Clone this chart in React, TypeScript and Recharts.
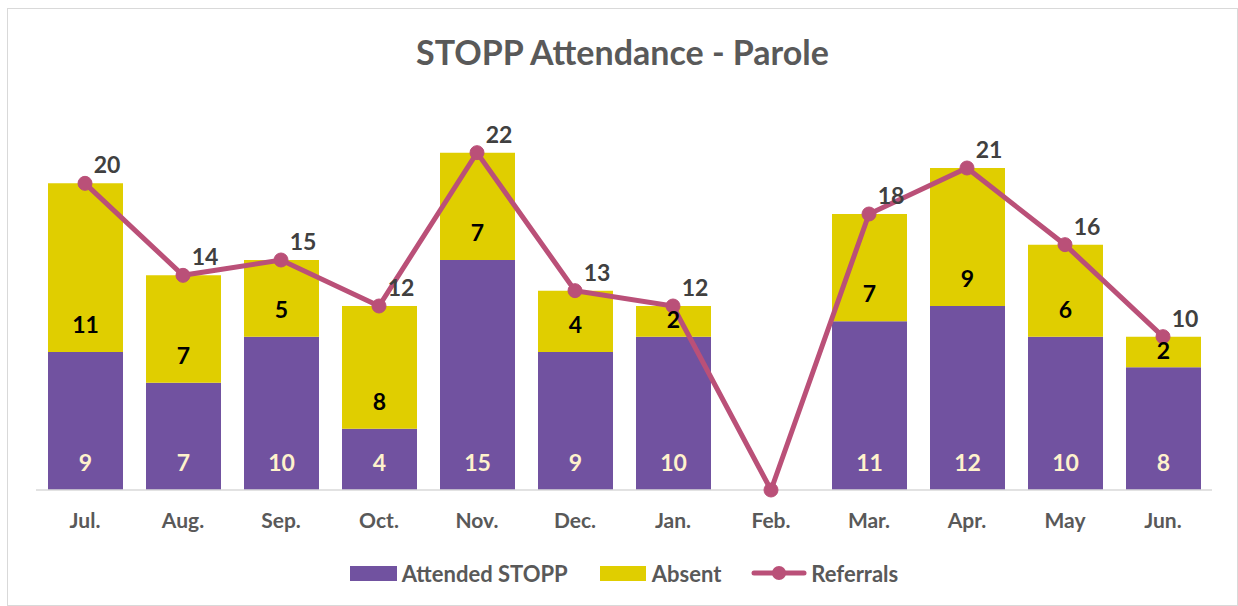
import { ComposedChart, Bar, Line, XAxis, YAxis, Legend, LabelList } from 'recharts';

const months = ['Jul.', 'Aug.', 'Sep.', 'Oct.', 'Nov.', 'Dec.', 'Jan.', 'Feb.', 'Mar.', 'Apr.', 'May', 'Jun.'];
const attended = [9, 7, 10, 4, 15, 9, 10, null, 11, 12, 10, 8];
const absent = [11, 7, 5, 8, 7, 4, 2, null, 7, 9, 6, 2];
const referrals = [20, 14, 15, 12, 22, 13, 12, 0, 18, 21, 16, 10];

const data = months.map((m, i) => ({
  month: m,
  attended: attended[i],
  absent: absent[i],
  referrals: referrals[i],
}));

const FONT = 'Lato, "Noto Sans", sans-serif';
const PURPLE = '#7152A0';
const YELLOW = '#E0CE00';
const LINE = '#BA5078';

// Excel "inside base" labels: near the bottom of each segment
const baseLabel = (color: string) => (props: any) => {
  const { x, y, width, height, value } = props;
  if (value == null) return null;
  const off = Math.min(28, height / 2 + 2);
  return (
    <text x={x + width / 2} y={y + height - off} textAnchor="middle" dominantBaseline="central"
      fill={color} fontSize={23} fontWeight={700} fontFamily={FONT}>
      {value}
    </text>
  );
};
const AttendedLabel = baseLabel('#FFF2CC');
const AbsentLabel = baseLabel('#000000');

const ReferralLabel = (props: any) => {
  const { x, y, value } = props;
  if (!value) return null;
  return (
    <text x={x + 22} y={y - 19} textAnchor="middle" dominantBaseline="central"
      fill="#404040" fontSize={23} fontWeight={700} fontFamily={FONT}>
      {value}
    </text>
  );
};

const LegendContent = () => (
  <div style={{ display: 'flex', justifyContent: 'center', alignItems: 'center', height: 40, fontFamily: FONT, fontSize: 22, fontWeight: 700, color: '#595959' }}>
    <span style={{ display: 'inline-block', width: 47, height: 15, background: PURPLE, marginRight: 5 }} />
    <span style={{ marginRight: 32 }}>Attended STOPP</span>
    <span style={{ display: 'inline-block', width: 46, height: 15, background: YELLOW, marginRight: 6 }} />
    <span style={{ marginRight: 30 }}>Absent</span>
    <svg width={56} height={20} style={{ marginRight: 4 }}>
      <line x1={3} y1={10} x2={53} y2={10} stroke={LINE} strokeWidth={5} strokeLinecap="round" />
      <circle cx={28} cy={10} r={7} fill={LINE} />
    </svg>
    <span>Referrals</span>
  </div>
);

export default function App() {
  return (
    <div style={{ position: 'absolute', left: 7, top: 8, width: 1229, height: 596, border: '1px solid #D9D9D9', background: '#fff' }}>
      <div style={{ position: 'absolute', left: 0, right: 0, top: 22, textAlign: 'center', fontFamily: FONT, fontWeight: 700, fontSize: 34, color: '#595959' }}>
        STOPP Attendance - Parole
      </div>
      <ComposedChart width={1229} height={596} data={data}
        margin={{ top: 113, right: 25, bottom: 12, left: 28 }}>
        <XAxis dataKey="month" axisLine={{ stroke: '#D9D9D9', strokeWidth: 1.5 }} tickLine={false}
          tickSize={0} tickMargin={23} height={63} interval={0}
          tick={{ fill: '#595959', fontSize: 21, fontWeight: 700, fontFamily: FONT }} />
        <YAxis hide domain={[0, 24]} />
        <Legend verticalAlign="bottom" content={<LegendContent />} height={40} />
        <Bar dataKey="attended" name="Attended STOPP" stackId="a" fill={PURPLE} barSize={75} isAnimationActive={false}>
          <LabelList dataKey="attended" content={<AttendedLabel />} />
        </Bar>
        <Bar dataKey="absent" name="Absent" stackId="a" fill={YELLOW} barSize={75} isAnimationActive={false}>
          <LabelList dataKey="absent" content={<AbsentLabel />} />
        </Bar>
        <Line dataKey="referrals" name="Referrals" stroke={LINE} strokeWidth={5}
          dot={{ r: 7, fill: LINE, stroke: LINE, strokeWidth: 1 }} activeDot={false} isAnimationActive={false}>
          <LabelList dataKey="referrals" content={<ReferralLabel />} />
        </Line>
      </ComposedChart>
    </div>
  );
}
